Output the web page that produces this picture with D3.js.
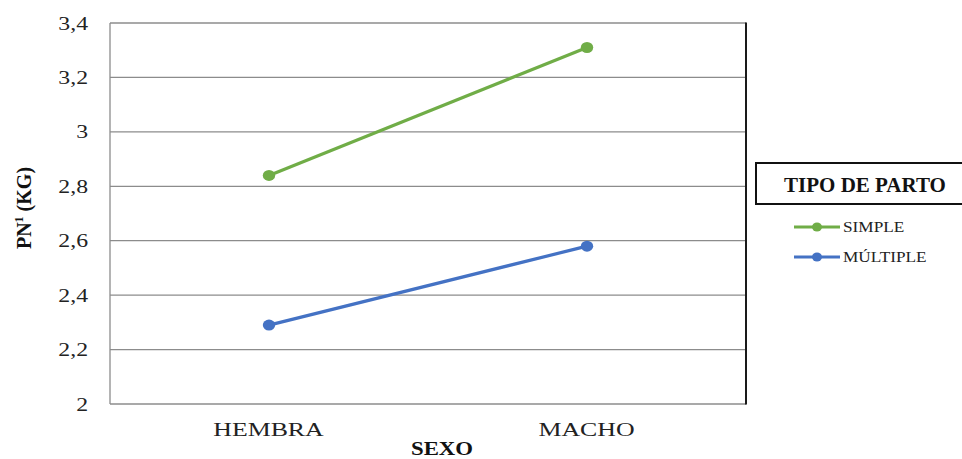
<!DOCTYPE html>
<html>
<head>
<meta charset="utf-8">
<script src="https://cdn.jsdelivr.net/npm/d3@7"></script>
<style>
  html, body { margin: 0; padding: 0; background: #fff; }
  svg { display: block; }
  svg text { font-family: 'Liberation Serif', 'Times New Roman', Times, 'Noto Serif', 'DejaVu Serif', FreeSerif, serif; }
</style>
</head>
<body>
<svg id="chart" width="962" height="459"></svg>
<script>
// Birth weight (kg) by sex and type of birth
const categories = ["HEMBRA", "MACHO"];
const simple = [2.84, 3.31];
const multiple = [2.29, 2.58];
const seriesNames = ["SIMPLE", "MÚLTIPLE"];
const yTicks = [2, 2.2, 2.4, 2.6, 2.8, 3, 3.2, 3.4];

const series = [
  { name: seriesNames[0], values: simple, color: "#70AD47" },
  { name: seriesNames[1], values: multiple, color: "#4472C4" }
];

const svg = d3.select("#chart");
const plot = { left: 110, right: 746, top: 23, bottom: 404 };

const x = d3.scalePoint()
  .domain(categories)
  .range([plot.left, plot.right])
  .padding(0.5);

const y = d3.scaleLinear()
  .domain([2, 3.4])
  .range([plot.bottom, plot.top]);

const fmt = d => String(d).replace(".", ",");

// horizontal gridlines
svg.append("g")
  .selectAll("line")
  .data(yTicks)
  .join("line")
  .attr("x1", plot.left).attr("x2", plot.right)
  .attr("y1", d => y(d)).attr("y2", d => y(d))
  .attr("stroke", "#8c8c8c")
  .attr("stroke-width", 1.3);

// left border and right frame edge
svg.append("line")
  .attr("x1", plot.left).attr("x2", plot.left)
  .attr("y1", plot.top).attr("y2", plot.bottom)
  .attr("stroke", "#8c8c8c").attr("stroke-width", 1.3);
svg.append("line")
  .attr("x1", plot.right).attr("x2", plot.right)
  .attr("y1", plot.top - 0.6).attr("y2", plot.bottom + 0.6)
  .attr("stroke", "#1a1a1a").attr("stroke-width", 2);

// y axis labels (slightly widened glyphs)
const yAxis = d3.axisLeft(y).tickValues(yTicks).tickFormat(fmt).tickSize(0).tickPadding(0);
const gy = svg.append("g").attr("transform", `translate(${plot.left},0)`).call(yAxis);
gy.attr("font-family", null).attr("font-size", null);
gy.select(".domain").remove();
gy.selectAll(".tick text")
  .attr("x", null)
  .attr("transform", "translate(-22,0) scale(1.25,1)")
  .attr("font-size", 19)
  .attr("fill", "#222");

// x axis labels
const xAxis = d3.axisBottom(x).tickSize(0).tickPadding(0);
const gx = svg.append("g").attr("transform", `translate(0,${plot.bottom})`).call(xAxis);
gx.attr("font-family", null).attr("font-size", null);
gx.select(".domain").remove();
gx.selectAll(".tick text")
  .attr("y", null).attr("dy", null)
  .attr("transform", "translate(-1,32) scale(1.36,1)")
  .attr("font-size", 19)
  .attr("fill", "#222");

// axis titles
svg.append("text")
  .attr("transform", "translate(442,455) scale(1.2,1)")
  .attr("text-anchor", "middle")
  .attr("font-weight", "bold")
  .attr("font-size", 19)
  .attr("fill", "#111")
  .text("SEXO");

const yt = svg.append("text")
  .attr("transform", "translate(31,208) rotate(-90)")
  .attr("text-anchor", "middle")
  .attr("font-weight", "bold")
  .attr("font-size", 20)
  .attr("fill", "#111");
yt.append("tspan").text("PN");
yt.append("tspan").attr("font-size", 12).attr("dy", -8).text("1");
yt.append("tspan").attr("dy", 8).text(" (KG)");

// series lines and markers
const line = d3.line()
  .x((d, i) => x(categories[i]))
  .y(d => y(d));

const gs = svg.append("g");
series.forEach(s => {
  gs.append("path")
    .datum(s.values)
    .attr("d", line)
    .attr("fill", "none")
    .attr("stroke", s.color)
    .attr("stroke-width", 3.2);
  gs.selectAll(null)
    .data(s.values)
    .join("ellipse")
    .attr("cx", (d, i) => x(categories[i]))
    .attr("cy", d => y(d))
    .attr("rx", 6.2).attr("ry", 5.5)
    .attr("fill", s.color);
});

// legend
const lg = svg.append("g");
lg.append("rect")
  .attr("x", 756).attr("y", 163)
  .attr("width", 220).attr("height", 41)
  .attr("fill", "#fff")
  .attr("stroke", "#111")
  .attr("stroke-width", 2);
lg.append("text")
  .attr("x", 865).attr("y", 192)
  .attr("text-anchor", "middle")
  .attr("font-weight", "bold")
  .attr("font-size", 21)
  .attr("fill", "#111")
  .text("TIPO DE PARTO");

series.forEach((s, i) => {
  const cy = 227 + i * 30;
  lg.append("line")
    .attr("x1", 794).attr("x2", 840)
    .attr("y1", cy).attr("y2", cy)
    .attr("stroke", s.color).attr("stroke-width", 3);
  lg.append("ellipse")
    .attr("cx", 817).attr("cy", cy).attr("rx", 5).attr("ry", 4.5)
    .attr("fill", s.color);
  lg.append("text")
    .attr("transform", `translate(843,${cy + 5}) scale(1.15,1)`)
    .attr("font-size", 15)
    .attr("fill", "#222")
    .text(s.name);
});
</script>
</body>
</html>
